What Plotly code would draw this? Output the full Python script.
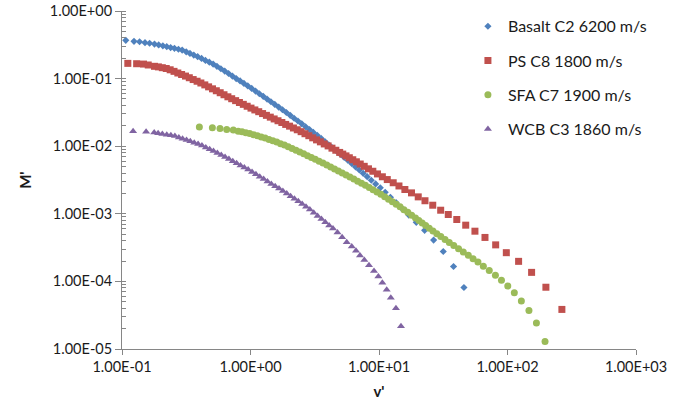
import plotly.graph_objects as go

# ---- data ----
basalt_x = [0.107, 0.124, 0.137, 0.151, 0.164, 0.179, 0.193, 0.208, 0.223, 0.239,
            0.256, 0.275, 0.294, 0.316, 0.338, 0.362, 0.388, 0.416, 0.446, 0.478,
            0.512, 0.548, 0.588, 0.630, 0.675, 0.723, 0.774, 0.830, 0.889, 0.953,
            1.021, 1.094, 1.172, 1.256, 1.346, 1.442, 1.545, 1.656, 1.774, 1.901,
            2.037, 2.183, 2.339, 2.506, 2.685, 2.877, 3.083, 3.304, 3.540, 3.793,
            4.064, 4.355, 4.667, 5.000, 5.358, 5.741, 6.152, 6.577, 7.031, 7.534,
            8.091, 8.710, 9.419, 10.23, 11.17, 12.27, 13.58, 15.14, 17.06, 19.50,
            22.65, 26.61, 31.62, 38.02, 45.81]
basalt_y = [0.368, 0.356, 0.351, 0.340, 0.333, 0.324, 0.315, 0.305, 0.297, 0.288,
            0.280, 0.272, 0.264, 0.249, 0.236, 0.223, 0.211, 0.199, 0.186, 0.175,
            0.164, 0.152, 0.140, 0.129, 0.119, 0.109, 0.100, 0.0923, 0.0849, 0.0780,
            0.0716, 0.0653, 0.0597, 0.0546, 0.0498, 0.0455, 0.0415, 0.0379, 0.0346, 0.0315,
            0.0286, 0.0259, 0.0236, 0.0214, 0.0194, 0.0176, 0.0160, 0.0145, 0.0131, 0.0117,
            0.0105, 0.00944, 0.00849, 0.00762, 0.00684, 0.00614, 0.00551, 0.00494, 0.00444, 0.00397,
            0.00354, 0.00314, 0.00277, 0.00242, 0.00208, 0.00175, 0.00146, 0.00119, 0.000957, 0.000748,
            0.000569, 0.000409, 0.000277, 0.000166, 0.0000813]

ps_x = [0.111, 0.130, 0.147, 0.160, 0.179, 0.192, 0.206, 0.221, 0.237, 0.254,
        0.272, 0.291, 0.312, 0.334, 0.358, 0.384, 0.411, 0.441, 0.472, 0.506,
        0.542, 0.581, 0.622, 0.667, 0.714, 0.766, 0.820, 0.879, 0.942, 1.009,
        1.081, 1.159, 1.242, 1.330, 1.426, 1.528, 1.637, 1.754, 1.879, 2.014,
        2.158, 2.312, 2.477, 2.655, 2.844, 3.048, 3.266, 3.499, 3.750, 4.018,
        4.305, 4.613, 4.943, 5.224, 5.534, 5.875, 6.252, 6.668, 7.145, 7.674,
        8.279, 8.954, 9.727, 10.62, 11.6, 12.9, 14.3, 15.9, 17.9, 20.2,
        22.8, 26.2, 30.2, 34.6, 40.3, 47.3, 55.8, 66.8, 80.9, 97.9,
        122, 154, 199, 265]
ps_y = [0.168, 0.166, 0.164, 0.159, 0.152, 0.149, 0.145, 0.141, 0.135, 0.128,
        0.121, 0.115, 0.109, 0.103, 0.0968, 0.0914, 0.0861, 0.0807, 0.0755, 0.0706,
        0.0661, 0.0618, 0.0577, 0.0538, 0.0504, 0.0472, 0.0443, 0.0416, 0.0390, 0.0366,
        0.0344, 0.0324, 0.0304, 0.0286, 0.0269, 0.0253, 0.0238, 0.0224, 0.0210, 0.0198,
        0.0186, 0.0175, 0.0164, 0.0153, 0.0143, 0.0133, 0.0124, 0.0116, 0.0108, 0.0101,
        0.00935, 0.00871, 0.00809, 0.00764, 0.00719, 0.00675, 0.00631, 0.00588, 0.00545, 0.00504,
        0.00463, 0.00426, 0.00389, 0.00353, 0.00321, 0.00288, 0.00258, 0.00229, 0.00204, 0.00178,
        0.00156, 0.00134, 0.00113, 0.000977, 0.000824, 0.000679, 0.000553, 0.000447, 0.000347, 0.000266,
        0.000198, 0.000136, 0.0000820, 0.0000385]

sfa_x = [0.400, 0.505, 0.579, 0.653, 0.735, 0.802, 0.859, 0.920, 0.986, 1.057,
         1.132, 1.213, 1.300, 1.393, 1.493, 1.600, 1.714, 1.837, 1.968, 2.109,
         2.259, 2.421, 2.594, 2.780, 2.979, 3.192, 3.420, 3.664, 3.926, 4.207,
         4.508, 4.831, 5.176, 5.546, 5.943, 6.368, 6.823, 7.311, 7.834, 8.395,
         8.995, 9.638, 10.33, 11.07, 11.86, 12.71, 13.61, 14.59, 15.63, 16.75,
         17.95, 19.23, 20.42, 21.68, 23.07, 24.60, 26.30, 28.18, 30.27, 32.66,
         35.24, 38.19, 41.59, 45.29, 49.55, 53.95, 58.88, 64.86, 72.11, 80.54,
         89.74, 100.5, 113.0, 128.2, 146.9, 167.9, 195.9]
sfa_y = [0.0192, 0.0188, 0.0182, 0.0177, 0.0173, 0.0167, 0.0163, 0.0158, 0.0154, 0.0148,
         0.0143, 0.0137, 0.0132, 0.0126, 0.0120, 0.0115, 0.0109, 0.0104, 0.00984, 0.00927,
         0.00871, 0.00820, 0.00771, 0.00724, 0.00681, 0.00640, 0.00601, 0.00562, 0.00527, 0.00493,
         0.00461, 0.00431, 0.00401, 0.00374, 0.00349, 0.00326, 0.00304, 0.00283, 0.00264, 0.00245,
         0.00227, 0.00210, 0.00194, 0.00179, 0.00164, 0.00151, 0.00138, 0.00127, 0.00115, 0.00105,
         0.000953, 0.000865, 0.000796, 0.000731, 0.000670, 0.000611, 0.000556, 0.000508, 0.000461, 0.000417,
         0.000377, 0.000339, 0.000303, 0.000272, 0.000243, 0.000216, 0.000193, 0.000168, 0.000145, 0.000123,
         0.000104, 0.0000855, 0.0000681, 0.0000513, 0.0000371, 0.0000243, 0.0000129]

wcb_x = [0.122, 0.154, 0.178, 0.191, 0.206, 0.223, 0.240, 0.258, 0.277, 0.296,
         0.318, 0.340, 0.365, 0.391, 0.419, 0.449, 0.481, 0.515, 0.552, 0.592,
         0.634, 0.679, 0.728, 0.780, 0.836, 0.895, 0.959, 1.028, 1.102, 1.180,
         1.265, 1.355, 1.452, 1.556, 1.667, 1.786, 1.914, 2.051, 2.198, 2.355,
         2.523, 2.704, 2.897, 3.105, 3.327, 3.565, 3.819, 4.093, 4.385, 4.753,
         5.164, 5.610, 6.138, 6.622, 7.112, 7.691, 8.356, 9.141, 9.886, 10.62,
         11.48, 12.36, 13.55, 14.83]
wcb_y = [0.0167, 0.0164, 0.0159, 0.0156, 0.0151, 0.0148, 0.0145, 0.0141, 0.0135, 0.0129,
         0.0123, 0.0118, 0.0112, 0.0108, 0.0102, 0.00955, 0.00900, 0.00847, 0.00793, 0.00740,
         0.00692, 0.00646, 0.00601, 0.00560, 0.00520, 0.00484, 0.00451, 0.00417, 0.00384, 0.00354,
         0.00326, 0.00301, 0.00277, 0.00255, 0.00236, 0.00217, 0.00199, 0.00182, 0.00167, 0.00153,
         0.00140, 0.00127, 0.00116, 0.00104, 0.000931, 0.000836, 0.000750, 0.000673, 0.000604, 0.000530,
         0.000449, 0.000380, 0.000327, 0.000284, 0.000242, 0.000208, 0.000174, 0.000142, 0.000118, 0.0000957,
         0.0000753, 0.0000574, 0.0000401, 0.0000217]

series_names = ["Basalt C2 6200 m/s", "PS C8 1800 m/s", "SFA C7 1900 m/s", "WCB C3 1860 m/s"]

x_tick_vals = [0.1, 1, 10, 100, 1000]
x_tick_text = ["1.00E-01", "1.00E+00", "1.00E+01", "1.00E+02", "1.00E+03"]
y_tick_vals = [1e-5, 1e-4, 1e-3, 1e-2, 1e-1, 1]
y_tick_text = ["1.00E-05", "1.00E-04", "1.00E-03", "1.00E-02", "1.00E-01", "1.00E+00"]

# ---- styling ----
FONT = "Lato, 'Liberation Sans', Arial, sans-serif"
AXIS_GREY = "#868686"
TEXT = "#1a1a1a"
styles = [
    dict(symbol="diamond", size=5.5, color="#4F81BD"),
    dict(symbol="square", size=7, color="#C0504D"),
    dict(symbol="circle", size=7, color="#9BBB59"),
    dict(symbol="triangle-up", size=7, color="#8064A2"),
]
data = [(basalt_x, basalt_y), (ps_x, ps_y), (sfa_x, sfa_y), (wcb_x, wcb_y)]

fig = go.Figure()
for i, ((xs, ys), name, st) in enumerate(zip(data, series_names, styles)):
    fig.add_trace(go.Scatter(
        x=xs, y=ys, mode="markers", name=name, legendgroup=f"g{i}",
        marker=dict(symbol=st["symbol"], size=st["size"], color=st["color"],
                    line=dict(width=0)),
    ))

fig.update_layout(
    width=699, height=414, autosize=False,
    margin=dict(l=122, r=63, t=11, b=65, pad=0, autoexpand=False),
    paper_bgcolor="white", plot_bgcolor="white",
    font=dict(family=FONT, size=14, color=TEXT),
    showlegend=True,
    hovermode=False,
    legend=dict(
        x=0.673, xanchor="left", y=1.005, yanchor="top",
        font=dict(family=FONT, size=16, color=TEXT),
        tracegroupgap=10.5, traceorder="grouped",
        bgcolor="rgba(0,0,0,0)", borderwidth=0,
    ),
    xaxis=dict(
        type="log", range=[-1, 3], automargin=False,
        tickmode="array", tickvals=x_tick_vals, ticktext=x_tick_text,
        ticks="outside", ticklen=5, tickcolor=AXIS_GREY, tickwidth=1,
        showline=True, linecolor=AXIS_GREY, linewidth=1,
        showgrid=False, zeroline=False,
        tickfont=dict(family=FONT, size=14.5, color=TEXT),
        title=dict(text="<b>v'</b>", font=dict(family=FONT, size=15, color=TEXT), standoff=12),
    ),
    yaxis=dict(
        type="log", range=[-5, 0], automargin=False,
        tickmode="array", tickvals=y_tick_vals, ticktext=y_tick_text,
        ticks="outside", ticklen=6, tickcolor=AXIS_GREY, tickwidth=1,
        showline=True, linecolor=AXIS_GREY, linewidth=1,
        showgrid=False, zeroline=False,
        ticklabeloverflow="allow",
        tickfont=dict(family=FONT, size=14.5, color=TEXT),
        minor=dict(ticks="inside", ticklen=4, tickcolor=AXIS_GREY, dtick="D1", showgrid=False),
    ),
    annotations=[dict(
        text="<b>M'</b>", textangle=-90, showarrow=False,
        xref="paper", yref="paper", x=-0.189, y=0.5,
        xanchor="center", yanchor="middle",
        font=dict(family=FONT, size=15, color=TEXT),
    )],
)

fig.write_html("out.html", config={"displayModeBar": False},
               post_script="document.body.style.margin='0';")
